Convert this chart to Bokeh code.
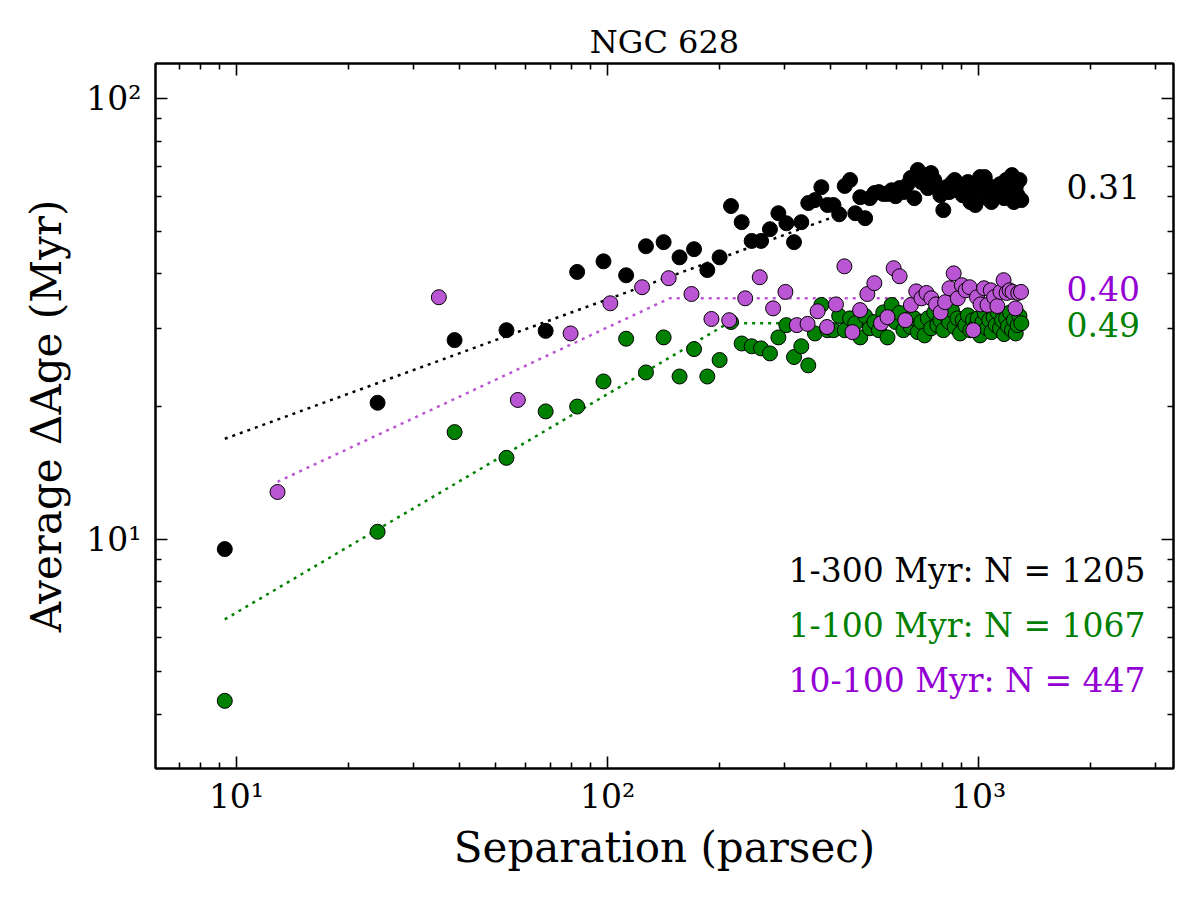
import numpy as np
from bokeh.plotting import figure
from bokeh.models import LogAxis, FixedTicker, Label, Range1d
from bokeh.embed import file_html
from bokeh.resources import INLINE

# ---------------- data ----------------
# separation bins shared by the 1-300 Myr and 1-100 Myr samples (parsec)
separation_1_300 = [
    9.3, 24.0, 38.7, 53.4, 68.1, 82.8, 97.5, 112.2, 126.9, 141.6,
    156.3, 171.0, 185.7, 200.4, 215.1, 229.8, 244.5, 259.2, 273.9, 288.6,
    303.3, 318.0, 332.7, 347.4, 362.1, 376.8, 391.5, 406.2, 420.9, 435.6,
    450.3, 465.0, 479.7, 494.4, 509.1, 523.8, 538.5, 553.2, 567.9, 582.6,
    597.3, 612.0, 626.7, 641.4, 656.1, 670.8, 685.5, 700.2, 714.9, 729.6,
    744.3, 759.0, 773.7, 788.4, 803.1, 817.8, 832.5, 847.2, 861.9, 876.6,
    891.3, 906.0, 920.7, 935.4, 950.1, 964.8, 979.5, 994.2, 1008.9, 1023.6,
    1038.3, 1053.0, 1067.7, 1082.4, 1097.1, 1111.8, 1126.5, 1141.2, 1155.9, 1170.6,
    1185.3, 1200.0, 1214.7, 1229.4, 1244.1, 1258.8, 1273.5, 1288.2, 1302.9]
age_1_300 = [
    9.5, 20.4, 28.3, 29.8, 29.7, 40.4, 42.7, 39.7, 46.2, 47.2,
    43.6, 45.5, 40.8, 43.6, 57.0, 52.4, 47.5, 47.5, 50.5, 54.9,
    52.1, 47.2, 52.4, 57.9, 58.8, 62.9, 57.3, 57.3, 54.6, 63.3,
    65.3, 54.9, 59.7, 53.5, 59.4, 61.0, 61.3, 60.7, 60.7, 61.9,
    60.0, 62.6, 61.3, 63.6, 66.0, 59.4, 68.8, 64.6, 67.0, 62.6,
    67.7, 65.3, 62.6, 60.3, 55.8, 62.9, 61.3, 64.3, 65.3, 61.9,
    63.6, 60.3, 61.9, 64.6, 58.2, 61.0, 57.3, 64.3, 66.3, 61.9,
    66.3, 59.4, 63.3, 58.2, 62.6, 60.3, 62.9, 63.9, 61.9, 59.4,
    65.3, 61.3, 63.3, 67.0, 58.2, 62.9, 60.3, 65.3, 58.8]

separation_1_100 = separation_1_300
age_1_100 = [
    4.3, 10.4, 17.5, 15.3, 19.5, 20.0, 22.8, 28.5, 23.9, 28.7,
    23.4, 27.0, 23.4, 25.5, 31.1, 27.8, 27.4, 27.1, 26.4, 28.7,
    30.6, 25.9, 27.4, 24.8, 29.3, 34.0, 29.8, 29.8, 32.1, 29.8,
    31.7, 30.9, 28.7, 32.1, 30.1, 31.1, 29.8, 32.7, 28.7, 34.0,
    31.1, 32.6, 29.8, 31.4, 30.3, 31.7, 29.5, 31.1, 29.0, 31.7,
    30.1, 32.7, 30.6, 31.4, 29.8, 32.1, 31.1, 33.1, 30.3, 31.7,
    29.3, 31.4, 30.6, 32.2, 29.8, 31.4, 30.3, 31.7, 29.0, 31.1,
    32.6, 30.1, 31.4, 29.5, 31.9, 30.6, 32.7, 30.1, 31.4, 29.2,
    31.7, 30.4, 32.7, 29.8, 31.4, 29.3, 30.6, 32.1, 30.9]

separation_10_100 = [
    12.9, 35.1, 57.3, 79.5, 101.7, 123.9, 146.1, 168.3, 190.5, 212.7,
    234.9, 257.1, 279.3, 301.5, 323.7, 345.9, 368.1, 390.3, 412.5, 434.7,
    456.9, 479.1, 501.3, 523.5, 545.7, 567.9, 590.1, 612.3, 634.5, 656.7,
    678.9, 701.1, 723.3, 745.5, 767.7, 789.9, 812.1, 834.3, 856.5, 878.7,
    900.9, 923.1, 945.3, 967.5, 989.7, 1011.9, 1034.1, 1056.3, 1078.5, 1100.7,
    1122.9, 1145.1, 1167.3, 1189.5, 1211.7, 1233.9, 1256.1, 1278.3, 1300.5]
age_10_100 = [
    12.8, 35.4, 20.7, 29.3, 34.3, 37.3, 39.1, 36.0, 31.6, 31.4,
    35.2, 39.3, 33.4, 36.4, 30.6, 30.8, 32.9, 30.3, 34.1, 41.6,
    29.5, 33.1, 36.0, 38.1, 30.9, 31.9, 41.2, 39.5, 31.4, 34.0,
    36.5, 35.2, 36.2, 35.2, 34.1, 32.7, 34.5, 37.1, 40.1, 35.2,
    37.7, 36.7, 37.3, 29.8, 35.4, 34.1, 37.1, 34.0, 36.7, 35.4,
    33.8, 36.4, 38.7, 36.2, 36.7, 36.4, 33.4, 36.2, 36.4]

# broken power-law fits (dotted)
fit_1_300_x = [9.3, 398.0]
fit_1_300_y = [16.9, 53.5]
fit_1_100_x = [9.3, 211.0, 330.0]
fit_1_100_y = [6.58, 30.9, 30.9]
fit_10_100_x = [12.9, 147.0, 654.0]
fit_10_100_y = [13.5, 35.2, 35.2]

slope_labels = ["0.31", "0.40", "0.49"]
sample_labels = ["1-300 Myr: N = 1205", "1-100 Myr: N = 1067", "10-100 Myr: N = 447"]

x_major = [10, 100, 1000]
x_minor = [7, 8, 9, 20, 30, 40, 50, 60, 70, 80, 90,
           200, 300, 400, 500, 600, 700, 800, 900, 2000, 3000]
y_major = [10, 100]
y_minor = [4, 5, 6, 7, 8, 9, 20, 30, 40, 50, 60, 70, 80, 90]
tick_text = {10: "10\u00b9", 100: "10\u00b2", 1000: "10\u00b3"}

XMIN, XMAX = 6.05, 3350.0
YMIN, YMAX = 3.02, 120.0

# ---------------- style ----------------
FONT = "DejaVu Serif"
BLACK = "#000000"
GREEN = "#008000"
ORCHID = "#BA55D3"
VIOLET = "#9400D3"


def fx(f):
    return 10 ** (np.log10(XMIN) + f * (np.log10(XMAX) - np.log10(XMIN)))


def fy(f):
    return 10 ** (np.log10(YMIN) + f * (np.log10(YMAX) - np.log10(YMIN)))


p = figure(width=1200, height=900, x_axis_type="log", y_axis_type="log",
           x_range=Range1d(XMIN, XMAX), y_range=Range1d(YMIN, YMAX),
           output_backend="svg", toolbar_location=None,
           min_border_left=155, min_border_right=27,
           min_border_top=63, min_border_bottom=132,
           title="NGC 628")
p.xgrid.visible = False
p.ygrid.visible = False
p.background_fill_color = "white"
p.border_fill_color = "white"
p.outline_line_color = "black"
p.outline_line_width = 2

p.title.text_font = FONT
p.title.text_font_size = "32px"
p.title.text_font_style = "normal"
p.title.text_color = "black"
p.title.align = "center"
p.title.standoff = 6


def style_axis(ax, major, minor, labels):
    ax.ticker = FixedTicker(ticks=major, minor_ticks=minor)
    ax.major_tick_in = 12
    ax.major_tick_out = 0
    ax.minor_tick_in = 6
    ax.minor_tick_out = 0
    ax.major_tick_line_width = 1.6
    ax.minor_tick_line_width = 1.6
    ax.major_tick_line_color = "black"
    ax.minor_tick_line_color = "black"
    ax.axis_line_width = 2
    ax.axis_line_color = "black"
    ax.major_label_text_font = FONT
    ax.major_label_text_color = "black"
    if labels:
        ax.major_label_text_font_size = "33px"
        ax.major_label_overrides = {t: tick_text[t] for t in major}
    else:
        ax.major_label_text_font_size = "1px"
        ax.major_label_overrides = {t: "" for t in major}
        ax.major_label_standoff = 0


xa = p.xaxis[0]
ya = p.yaxis[0]
style_axis(xa, x_major, x_minor, True)
style_axis(ya, y_major, y_minor, True)
xa.major_label_standoff = 8
ya.major_label_standoff = 14
xa.axis_label = "Separation (parsec)"
ya.axis_label = "Average \u0394Age (Myr)"
for ax in (xa, ya):
    ax.axis_label_text_font = FONT
    ax.axis_label_text_font_size = "42px"
    ax.axis_label_text_font_style = "normal"
    ax.axis_label_text_color = "black"
xa.axis_label_standoff = 4
ya.axis_label_standoff = 12

top = LogAxis()
style_axis(top, x_major, x_minor, False)
p.add_layout(top, "above")
right = LogAxis()
style_axis(right, y_major, y_minor, False)
p.add_layout(right, "right")

# fits
DASH = "3 5"
p.line(fit_1_300_x, fit_1_300_y, line_color=BLACK, line_width=2.5, line_dash=DASH)
p.line(fit_1_100_x, fit_1_100_y, line_color=GREEN, line_width=2.5, line_dash=DASH)
p.line(fit_10_100_x, fit_10_100_y, line_color=ORCHID, line_width=2.5, line_dash=DASH)

# points
p.scatter(separation_1_300, age_1_300, size=15, fill_color=BLACK, line_color="black", line_width=1)
p.scatter(separation_1_100, age_1_100, size=15, fill_color=GREEN, line_color="black", line_width=1)
p.scatter(separation_10_100, age_10_100, size=15, fill_color=ORCHID, line_color="black", line_width=1)

# slope labels
for txt, yf, col in zip(slope_labels, [0.8255, 0.681, 0.630], [BLACK, VIOLET, GREEN]):
    p.add_layout(Label(x=fx(0.895), y=fy(yf), text=txt, text_font=FONT,
                       text_font_size="33px", text_color=col,
                       text_align="left", text_baseline="middle"))

# sample labels
for txt, yf, col in zip(sample_labels, [0.281, 0.2028, 0.1248], [BLACK, GREEN, VIOLET]):
    p.add_layout(Label(x=fx(0.9725), y=fy(yf), text=txt, text_font=FONT,
                       text_font_size="33px", text_color=col,
                       text_align="right", text_baseline="middle"))

open("out.html", "w").write(file_html(p, INLINE))
